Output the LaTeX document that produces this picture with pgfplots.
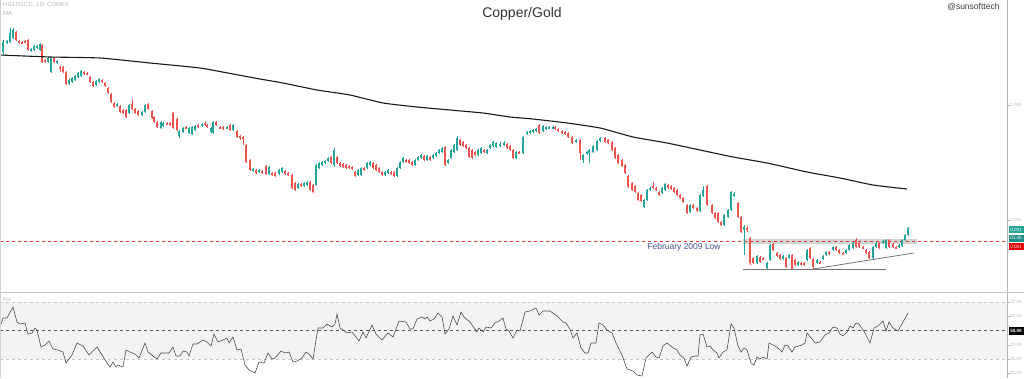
\documentclass[border=0pt]{standalone}
\usepackage{pgfplots}
\usepackage{pgfplotstable}
\pgfplotsset{compat=1.18}
\usepackage{fontspec}
\setmainfont{Liberation Sans}
\definecolor{cgreen}{HTML}{26A69A}
\definecolor{cred}{HTML}{EF5350}
\definecolor{lvlred}{HTML}{E53935}
\definecolor{axgrey}{HTML}{B2B5BE}
\definecolor{band}{HTML}{F3F3F3}
\definecolor{txtgrey}{HTML}{B8B8B8}
\definecolor{annot}{HTML}{46568E}

% candles in chart pixel units (y grows downward): x open high low close
\pgfplotstableread{
x o h l c
3 52 40 55 42
7 43 40 44 41
10 42 28 43 33
13 38 28 39 30
16 32 31 41 40
19 41 40 44 43
22 42 41 44 43
25 41 40 43 42
28 40 39 51 50
31 51 48 52 49
34 50 45 51 46
37 48 45 49 46
40 50 43 51 44
42 45 44 63 62
45 60 59 63 62
48 62 57 63 58
51 72 57 73 58
54 58 57 63 62
57 63 60 64 61
60 67 66 72 69
63 67 66 73 72
66 72 71 85 84
69 84 79 85 80
72 82 77 83 78
75 80 75 81 76
78 77 72 78 73
81 76 70 77 71
84 72 71 75 74
87 73 72 75 74
90 77 76 83 82
93 82 81 87 86
96 85 80 86 81
99 82 78 83 79
102 80 79 83 82
105 83 82 87 86
108 88 87 94 93
111 94 93 103 102
114 103 102 108 107
117 106 103 107 104
120 106 105 113 112
123 110 109 114 113
126 110 109 118 117
129 113 104 114 105
132 104 99 110 109
135 109 108 114 113
138 111 110 116 115
142 115 111 116 112
145 112 104 113 105
148 104 103 110 109
152 111 110 119 118
154 117 116 123 122
157 122 121 128 127
161 128 121 129 122
163 126 122 127 123
167 123 122 125 124
170 123 122 126 125
173 113 112 129 128
177 119 118 131 130
179 136 130 138 131
183 132 127 133 128
186 127 126 129 128
189 133 127 134 128
192 134 126 135 127
195 130 125 131 126
198 125 124 128 127
202 126 123 127 124
205 123 121 126 125
207 125 124 128 127
211 132 127 133 128
213 133 121 134 122
216 122 121 126 125
220 127 126 129 128
223 127 126 130 129
227 128 126 129 127
230 125 124 131 130
233 130 124 131 125
237 131 130 138 137
240 136 135 140 137
243 137 136 145 138
246 145 144 163 162
250 160 159 171 170
253 171 168 172 169
256 170 169 174 173
259 172 169 173 170
262 171 170 174 173
266 166 165 175 174
269 174 166 175 167
272 173 172 176 175
275 173 172 177 176
279 174 169 175 170
282 172 167 173 168
285 171 170 175 174
288 173 172 176 175
292 175 174 189 188
295 183 182 191 190
298 188 183 189 184
301 184 183 187 186
304 186 182 187 183
307 185 181 186 182
310 182 181 191 190
313 185 184 193 192
316 185 164 186 165
319 168 162 169 163
322 165 161 166 162
325 163 160 164 161
328 161 157 162 158
331 157 156 164 163
334 165 148 167 150
337 157 156 164 163
340 163 162 167 166
343 164 163 168 167
346 165 164 169 168
349 166 165 169 168
352 167 166 170 169
355 172 171 177 176
358 175 169 176 170
361 175 167 176 168
364 168 167 171 170
367 168 162 169 163
370 165 161 166 162
373 163 162 169 168
376 165 164 171 170
379 168 167 173 172
382 172 171 176 175
385 175 171 176 172
388 173 169 174 170
391 172 171 175 174
394 172 171 177 176
397 176 167 177 168
400 168 161 169 162
403 162 157 163 158
406 160 159 163 162
409 160 159 164 163
412 162 161 166 165
415 165 159 166 160
418 160 156 161 157
421 158 154 159 155
424 156 155 161 160
427 160 155 161 156
430 157 156 161 160
433 158 154 159 155
436 156 152 157 153
439 153 149 154 150
442 152 147 153 148
445 147 146 166 165
448 163 159 164 160
451 158 149 159 150
454 152 144 153 145
457 150 136 151 138
460 140 139 146 145
463 142 141 147 146
466 145 144 149 148
469 148 147 158 157
472 150 149 159 158
475 152 151 156 155
478 155 149 156 150
481 153 147 154 148
484 150 149 153 152
487 153 149 154 150
490 148 144 149 145
493 146 141 147 142
496 147 142 148 143
500 146 142 147 144
504 145 141 146 143
507 144 143 149 148
510 146 145 151 150
513 150 149 159 158
516 158 151 159 152
519 152 151 154 153
523 153 136 154 137
527 134 131 135 132
530 133 130 134 131
533 132 129 133 130
536 131 128 132 129
539 125 124 134 133
543 131 125 132 126
546 129 126 130 127
549 128 126 129 127
553 128 126 129 127
555 127 126 130 129
558 129 128 132 131
562 131 130 134 133
565 132 131 135 134
568 133 132 138 137
572 137 136 144 143
576 142 139 143 140
580 140 139 160 153
583 160 154 163 155
587 154 151 155 152
589 153 149 163 150
593 152 145 153 146
597 150 140 151 141
600 141 137 142 138
605 138 137 143 142
608 140 139 144 143
612 142 141 151 150
615 148 147 159 158
618 155 154 164 163
622 160 159 167 166
625 165 164 174 173
628 176 175 188 187
632 183 182 191 190
635 186 185 193 192
638 193 192 201 200
641 195 194 202 201
644 207 199 208 200
647 200 189 201 190
650 190 187 191 188
653 186 182 189 188
656 188 187 191 190
659 192 191 196 195
662 193 187 194 188
665 190 183 191 184
668 185 184 189 188
671 186 185 190 189
674 188 187 193 192
677 190 189 196 195
680 195 194 199 198
683 198 197 203 202
687 205 204 214 213
690 212 204 213 205
693 205 204 209 208
697 208 207 212 211
700 211 194 212 195
703 196 186 197 190
707 186 185 206 205
712 205 204 214 213
715 213 212 219 218
718 213 212 223 222
721 222 221 226 225
724 225 214 226 215
728 217 209 218 210
731 210 191 211 192
734 196 192 197 194
738 203 202 218 217
741 217 216 233 232
744 230 225 255 227
747 228 226 232 230
750 238 237 265 263
753 258 257 264 263
757 263 255 264 256
760 257 256 263 262
763 258 257 260 259
767 268 262 269 263
770 260 244 261 245
773 244 243 251 250
777 253 252 257 256
780 255 254 260 259
783 259 255 260 256
786 258 257 268 267
789 258 254 259 255
792 255 254 270 269
795 260 259 266 265
798 265 261 266 262
801 263 262 265 264
804 263 262 266 265
807 260 249 261 250
810 248 247 259 258
813 259 258 269 267
817 263 259 264 260
820 262 261 264 263
823 259 255 260 256
826 255 251 256 252
829 252 251 255 254
833 250 246 251 247
836 247 246 251 250
839 250 249 254 253
843 253 252 255 254
846 253 249 254 250
849 250 244 251 245
853 248 242 249 243
856 240 238 248 247
859 243 242 248 247
863 247 246 249 248
866 250 249 254 253
869 252 251 259 258
873 258 246 259 247
876 247 242 248 243
879 243 242 249 248
883 243 240 244 241
886 248 239 249 240
889 240 239 248 247
893 244 243 248 247
896 247 246 249 248
899 247 244 248 245
902 246 239 247 240
905 240 234 241 235
908 235 227 236 228
}\candles

% RSI line, chart pixel units: x, pixel y
\pgfplotstableread{
x p
0 327
3 318
7 318
13 307
17 322
20 324
25 323
28 334
32 333
35 328
37 330
41 347
45 345
49 341
53 349
58 350
63 352
66 363
72 355
77 343
83 346
89 355
97 347
102 355
107 363
110 367
113 362
116 367
118 365
123 367
126 350
130 352
135 354
139 358
145 343
148 352
153 356
157 359
161 353
165 353
169 353
173 347
176 356
180 356
183 351
187 352
189 356
193 344
197 344
200 342
203 340
207 342
211 346
214 334
218 342
223 340
227 338
229 343
233 337
237 350
241 349
245 365
249 370
255 373
259 362
264 363
268 353
272 359
275 358
281 351
285 353
289 352
293 362
297 361
302 358
306 352
309 354
313 359
318 328
323 328
327 324
332 327
335 324
337 314
340 328
343 330
347 333
352 332
359 341
363 332
366 338
372 325
376 334
382 340
388 333
393 337
399 321
406 322
410 329
413 329
417 319
422 317
425 319
427 317
430 321
434 319
438 313
442 317
445 334
449 329
453 316
457 325
461 312
464 317
470 322
477 332
479 328
483 332
486 327
491 328
495 323
499 321
503 318
506 329
509 331
513 338
517 330
520 331
525 312
530 311
536 308
539 315
543 311
550 311
557 316
563 322
566 323
570 329
573 338
577 333
581 348
585 353
588 353
591 343
596 343
599 323
603 325
607 330
612 333
616 343
622 355
627 369
633 371
637 375
642 376
646 358
652 352
656 357
659 358
663 346
667 343
672 347
677 350
680 355
684 358
687 366
691 357
695 356
698 356
700 335
703 334
707 347
710 346
713 350
717 353
719 358
723 352
727 350
731 324
734 328
738 346
741 352
744 348
747 350
751 363
754 365
757 357
760 359
763 357
767 359
769 343
775 346
779 349
782 352
785 345
788 346
792 352
795 347
802 345
805 343
807 333
812 339
815 343
820 342
825 335
829 333
833 327
837 328
840 334
843 336
847 332
850 326
853 328
856 323
859 324
865 333
870 343
874 328
878 326
883 321
886 331
889 322
893 328
898 331
903 322
908 313
}\rsidata

\pgfplotsset{
  candlepart/.style n args={2}{draw=none, no markers, forget plot,
    error bars/.cd, y dir=both, y explicit, error mark=none,
    error bar style={draw=#1, line width=#2}},
  isup/.style={restrict expr to domain={\thisrow{c}-\thisrow{o}}{-1000:-0.01}},
  isdown/.style={restrict expr to domain={\thisrow{c}-\thisrow{o}}{0:1000}},
}

\begin{document}
\begin{tikzpicture}[x=1pt,y=1pt]
% ---------- price pane ----------
\begin{axis}[
  at={(0pt,86pt)}, anchor=south west,
  width=1007pt, height=292pt, scale only axis,
  xmin=0, xmax=1007, ymin=0, ymax=292, y dir=reverse,
  hide axis, clip=true]
  \fill[black!17] (axis cs:743,239) rectangle (axis cs:917,244);
  \draw[lvlred, line width=0.8pt, dash pattern=on 3pt off 3pt] (axis cs:0,241) -- (axis cs:1007,241);
  % wicks
  \addplot[isup, candlepart={cgreen}{0.7pt}]
    table[x=x, y expr={(\thisrow{h}+\thisrow{l})/2}, y error expr={(\thisrow{l}-\thisrow{h})/2}] {\candles};
  \addplot[isdown, candlepart={cred}{0.7pt}]
    table[x=x, y expr={(\thisrow{h}+\thisrow{l})/2}, y error expr={(\thisrow{l}-\thisrow{h})/2}] {\candles};
  % bodies
  \addplot[isup, candlepart={cgreen}{2.3pt}]
    table[x=x, y expr={(\thisrow{o}+\thisrow{c})/2}, y error expr={abs(\thisrow{o}-\thisrow{c})/2}] {\candles};
  \addplot[isdown, candlepart={cred}{2.3pt}]
    table[x=x, y expr={(\thisrow{o}+\thisrow{c})/2}, y error expr={abs(\thisrow{o}-\thisrow{c})/2}] {\candles};
  % moving average
  \addplot[black!90, line width=1.1pt, smooth, tension=0.3, no markers] coordinates {
    (0,55) (50,57) (100,58) (150,63) (200,68) (233,74) (260,79) (283,83)
    (317,90) (350,95) (383,103) (417,107) (450,110) (483,113) (510,117)
    (533,119) (567,123) (600,128) (633,137) (667,143) (700,150) (733,157)
    (767,163) (807,172) (840,178) (873,185) (907,189)};
  % support / trend lines
  \addplot[black!55, line width=1pt, no markers] coordinates {(743,269) (886,269)};
  \addplot[black!55, line width=0.8pt, no markers] coordinates {(813,269) (914,253)};
\end{axis}

% ---------- RSI pane ----------
\begin{axis}[
  at={(0pt,0pt)}, anchor=south west,
  width=1007pt, height=85pt, scale only axis,
  xmin=0, xmax=1007, ymin=16.67, ymax=76.32,
  hide axis, clip=true]
  \fill[band] (axis cs:0,30) rectangle (axis cs:1007,70);
  \draw[black!22, line width=0.6pt, dash pattern=on 3pt off 3pt] (axis cs:0,70) -- (axis cs:1007,70);
  \draw[black!22, line width=0.6pt, dash pattern=on 3pt off 3pt] (axis cs:0,30) -- (axis cs:1007,30);
  \draw[black!65, line width=0.6pt, dash pattern=on 3pt off 3pt] (axis cs:0,50) -- (axis cs:1007,50);
  \addplot[black!70, line width=0.6pt, no markers] table[x=x, y expr={50-(\thisrow{p}-330.5)/1.425}] {\rsidata};
\end{axis}

% ---------- frame ----------
\draw[axgrey, line width=0.8pt] (1007.5,0) -- (1007.5,378);
\draw[axgrey!80, line width=1.2pt] (0,85.2) -- (1024,85.2);
\draw[axgrey!60, line width=0.8pt] (0.5,86) -- (0.5,378);
\draw[axgrey!60, line width=0.8pt] (0.5,0) -- (0.5,85);

% price scale labels
\foreach \yy/\tt in {273/0.002,158/0.001}{
  \draw[txtgrey, line width=0.5pt] (1007.5,\yy) -- (1009.5,\yy);
  \node[anchor=west, text=txtgrey, inner sep=0pt, font=\fontsize{4.6}{5}\selectfont] at (1010,\yy) {\tt};
}
\node[anchor=west, fill=cgreen, text=white, inner sep=0.6pt, minimum height=7pt, minimum width=15pt, font=\fontsize{4.6}{5}\selectfont] at (1008.3,148.5) {0.001};
\node[anchor=west, fill=cgreen!85!black, text=white, inner sep=0.6pt, minimum height=7pt, minimum width=15pt, font=\fontsize{4.6}{5}\selectfont] at (1008.3,140) {01:45};
\node[anchor=west, fill=red!90!black, text=white, inner sep=0.6pt, minimum height=7pt, minimum width=15pt, font=\fontsize{4.6}{5}\selectfont] at (1008.3,131.5) {0.001};

% RSI scale labels
\foreach \yy/\tt in {76/70.00,61.75/60.00,33.25/40.00,19/30.00,4.75/20.00}{
  \draw[txtgrey, line width=0.5pt] (1007.5,\yy) -- (1009.5,\yy);
  \node[anchor=west, text=txtgrey, inner sep=0pt, font=\fontsize{4.6}{5}\selectfont] at (1010,\yy) {\tt};
}
\node[anchor=west, fill=black, text=white, inner sep=0.6pt, minimum height=8pt, minimum width=15pt, font=\fontsize{4.6}{5}\selectfont\bfseries] at (1008.3,47.5) {50.00};

% texts
\node[text=black!80, font=\fontsize{14}{16}\selectfont] at (522,364) {Copper/Gold};
\node[anchor=east, text=black!75, font=\fontsize{8.5}{10}\selectfont] at (1003,371) {@sunsofttech};
\node[anchor=west, text=txtgrey, inner sep=0pt, font=\fontsize{6}{7}\selectfont] at (3,373) {HG1!/GC1!, 1D, COMEX};
\node[anchor=west, text=txtgrey, inner sep=0pt, font=\fontsize{6}{7}\selectfont] at (3,365) {MA};
\node[anchor=west, text=txtgrey, inner sep=0pt, font=\fontsize{5}{6}\selectfont] at (3,78) {RSI};
\node[text=annot, inner sep=0pt, font=\fontsize{8.5}{10}\selectfont] at (684,130.5) {February 2009 Low};

\pgfresetboundingbox
\path[use as bounding box] (0,0) rectangle (1024,378);
\end{tikzpicture}
\end{document}
